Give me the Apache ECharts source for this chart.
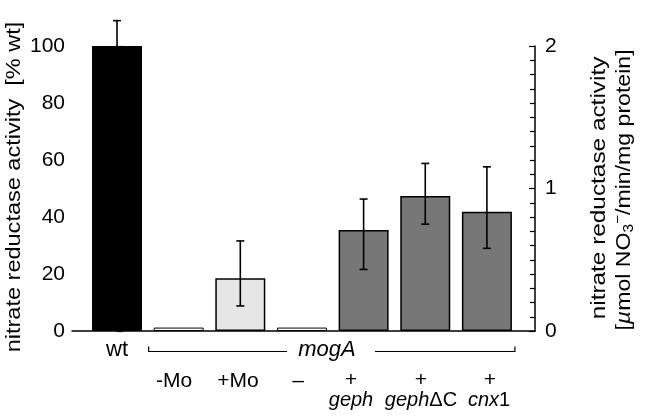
<!DOCTYPE html>
<html><head><meta charset="utf-8">
<script src="https://cdn.jsdelivr.net/npm/echarts@6/dist/echarts.min.js"></script>
<style>html,body{margin:0;padding:0;background:#fff}#c{width:646px;height:417px}</style>
</head><body><div id="c"></div>
<script>
const categories = ['wt', '-Mo', '+Mo', '–', 'geph', 'gephΔC', 'cnx1'];
const values = [100, 1.2, 18.5, 1.2, 35.4, 47.4, 41.8];
const errHigh = [108.9, null, 31.6, null, 46.3, 58.8, 57.6];
const errLow = [91.1, null, 8.8, null, 21.6, 37.5, 29.0];
const barColors = ['#000000', '#ffffff', '#e6e6e6', '#ffffff', '#777777', '#777777', '#777777'];
const leftTicks = [0, 20, 40, 60, 80, 100];
const rightTicks = [0, 1, 2];

const FONT = 'Liberation Sans, Arial, Helvetica, sans-serif';
const chart = echarts.init(document.getElementById('c'), null, {renderer: 'canvas'});

const option = {
  animation: false,
  backgroundColor: '#fff',
  grid: {left: 72, right: 111, top: 46, bottom: 86},
  xAxis: {
    type: 'value', min: -0.73, max: 6.78,
    axisLine: {show: true, onZero: false, lineStyle: {color: '#000', width: 1.5}},
    axisTick: {show: false}, axisLabel: {show: false}, splitLine: {show: false}
  },
  yAxis: [{
    type: 'value', min: leftTicks[0], max: leftTicks[leftTicks.length - 1], interval: 20,
    axisLine: {show: true, lineStyle: {color: '#000', width: 1.5}},
    axisTick: {show: true, inside: true, length: 6, lineStyle: {color: '#000', width: 1.2}},
    minorTick: {show: true, splitNumber: 4, length: 5, lineStyle: {color: '#000', width: 1.2}},
    axisLabel: {color: '#000', fontSize: 21, fontFamily: FONT, margin: 7},
    splitLine: {show: false}
  }, {
    type: 'value', position: 'right', min: rightTicks[0], max: rightTicks[rightTicks.length - 1], interval: 1,
    axisLine: {show: true, lineStyle: {color: '#000', width: 1.5}},
    axisTick: {show: true, inside: true, length: 6, lineStyle: {color: '#000', width: 1.2}},
    minorTick: {show: true, splitNumber: 10, length: 5, lineStyle: {color: '#000', width: 1.2}},
    axisLabel: {color: '#000', fontSize: 21, fontFamily: FONT, margin: 10},
    splitLine: {show: false}
  }],
  series: [{
    type: 'bar', barWidth: 50,
    data: values.map((v, i) => ({value: [i, v], itemStyle: {color: barColors[i], borderColor: '#000', borderWidth: (i === 1 || i === 3) ? 1 : 1.5}})),
    z: 2
  }, {
    type: 'custom', z: 5,
    data: categories.map((c, i) => [i, errLow[i], errHigh[i]]).filter(d => d[2] != null),
    renderItem: function (params, api) {
      const x = api.value(0);
      const lo = api.coord([x, api.value(1)]);
      const hi = api.coord([x, api.value(2)]);
      const hw = 4;
      const st = {stroke: '#000', lineWidth: 1.6};
      return {type: 'group', children: [
        {type: 'line', shape: {x1: lo[0], y1: lo[1], x2: hi[0], y2: hi[1]}, style: st},
        {type: 'line', shape: {x1: hi[0] - hw, y1: hi[1], x2: hi[0] + hw, y2: hi[1]}, style: st},
        {type: 'line', shape: {x1: lo[0] - hw, y1: lo[1], x2: lo[0] + hw, y2: lo[1]}, style: st}
      ]};
    }
  }]
};
chart.setOption(option);

const px = i => chart.convertToPixel({xAxisIndex: 0}, i);
const txt = (x, y, text, extra) => ({
  type: 'text', x: x, y: y,
  style: Object.assign({text: text, font: '21px ' + FONT, fill: '#000', align: 'center', verticalAlign: 'middle'}, extra || {})
});
const g = [];
g.push(txt(px(0), 350, 'wt', {font: '22px ' + FONT}));
g.push(txt(327, 350, 'mogA', {font: 'italic 22px ' + FONT}));
const bx1 = px(1) - 30, bx2 = px(6) + 28, by = 351.5;
g.push({type: 'polyline', shape: {points: [[bx1, by - 5], [bx1, by], [287, by]]}, style: {stroke: '#000', lineWidth: 1.2, fill: null}});
g.push({type: 'polyline', shape: {points: [[375, by], [bx2, by], [bx2, by - 5]]}, style: {stroke: '#000', lineWidth: 1.2, fill: null}});
g.push(txt(174, 381, '-Mo'));
g.push(txt(238, 381, '+Mo'));
g.push(txt(298, 381, '–'));
[351, 421, 490].forEach(x => g.push(txt(x, 380, '+')));
g.push(txt(351, 400, 'geph', {font: 'italic 20px ' + FONT}));
g.push({type: 'text', x: 421, y: 400, style: {
  text: '{i|geph}{n|ΔC}', align: 'center', verticalAlign: 'middle', fill: '#000',
  rich: {i: {font: 'italic 20px ' + FONT, fill: '#000'}, n: {font: '20px ' + FONT, fill: '#000'}}
}});
g.push({type: 'text', x: 489, y: 400, style: {
  text: '{i|cnx}{n|1}', align: 'center', verticalAlign: 'middle', fill: '#000',
  rich: {i: {font: 'italic 20px ' + FONT, fill: '#000'}, n: {font: '20px ' + FONT, fill: '#000'}}
}});
g.push({type: 'text', x: 14, y: 187, rotation: Math.PI / 2, scaleX: 1.12, style: {
  text: 'nitrate reductase activity  [% wt]', font: '21px ' + FONT, fill: '#000', align: 'center', verticalAlign: 'middle'}});
g.push({type: 'text', x: 599, y: 188, rotation: Math.PI / 2, scaleX: 1.16, style: {
  text: 'nitrate reductase activity', font: '21px ' + FONT, fill: '#000', align: 'center', verticalAlign: 'middle'}});
g.push({type: 'text', x: 624, y: 190, rotation: Math.PI / 2, scaleX: 1.1, style: {
  text: '{n|[}{i|µ}{n|mol NO}{sub|3}{sup|−}{n|/min/mg protein]}', align: 'center', verticalAlign: 'middle', fill: '#000',
  rich: {
    n: {font: '21px ' + FONT, fill: '#000', lineHeight: 25},
    i: {font: 'italic 21px ' + FONT, fill: '#000', lineHeight: 25},
    sub: {font: '14px ' + FONT, fill: '#000', verticalAlign: 'bottom', lineHeight: 25},
    sup: {font: '14px ' + FONT, fill: '#000', verticalAlign: 'top', lineHeight: 25}
  }}});
chart.setOption({graphic: {elements: g}});
</script></body></html>
